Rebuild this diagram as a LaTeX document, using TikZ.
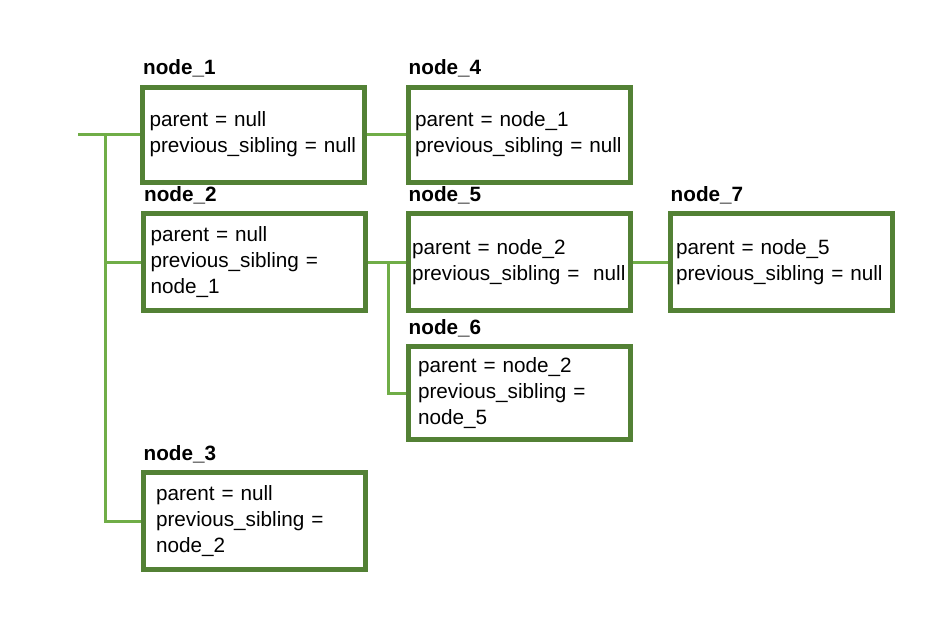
\documentclass[tikz,border=0pt]{standalone}
\usepackage{fontspec}
\setmainfont{Liberation Sans}
\usepackage{xcolor}
\usetikzlibrary{positioning}
\definecolor{boxgreen}{RGB}{83,129,53}
\definecolor{linkgreen}{RGB}{112,173,71}

\begin{document}
\begin{tikzpicture}
  [x=1pt,y=-1pt,
   box/.style={draw=boxgreen,line width=5pt,fill=white,rectangle,
     minimum width=222pt,minimum height=95pt,inner xsep=7pt,text width=208pt,
     align=left,font=\fontsize{20.7}{26}\selectfont},
   tag/.style={anchor=base west,inner sep=0pt,font=\fontsize{20.7}{26}\selectfont\bfseries},
   link/.style={draw=linkgreen,line width=3pt}]
  \useasboundingbox (0,0) rectangle (944,626);
  \node[box] (n1) at (253.5,134.5) {parent = null\\previous\_sibling = null};
  \node[box] (n4) at (519,134.5) {parent = node\_1\\previous\_sibling = null};
  \node[box,minimum height=97pt] (n2) at (254.5,262) {parent = null\\previous\_sibling =\\node\_1};
  \node[box,minimum height=97pt,inner xsep=4pt,text width=214pt] (n5) at (519,262) {parent = node\_2\\\mbox{previous\_sibling = \ null}};
  \node[box,minimum height=97pt,inner xsep=6pt,text width=210pt] (n7) at (781,262) {parent = node\_5\\previous\_sibling = null};
  \node[box,minimum height=93pt,inner xsep=10pt,text width=202pt] (n6) at (519,393) {parent = node\_2\\previous\_sibling =\\node\_5};
  \node[box,minimum height=97pt,inner xsep=13pt,text width=196pt] (n3) at (254,521) {parent = null\\previous\_sibling =\\node\_2};
  \foreach \n/\t in {n1/node\_1,n2/node\_2,n3/node\_3,n4/node\_4,n5/node\_5,n6/node\_6,n7/node\_7}
    \node[tag] (t\n) at ([shift={(3,-10)}]\n.north west) {\t};
  \coordinate (root) at (78,134.5);
  \coordinate (trunk) at (105,134.5);
  \coordinate (fork) at (388,262);
  \draw[link] (root) -- (n1.west);
  \draw[link] (trunk) |- (n3.west);
  \draw[link] (trunk |- n2.west) -- (n2.west);
  \draw[link] (n1.east) -- (n4.west);
  \draw[link] (n2.east) -- (n5.west);
  \draw[link] (fork) |- (n6.west);
  \draw[link] (n5.east) -- (n7.west);
\end{tikzpicture}
\end{document}
